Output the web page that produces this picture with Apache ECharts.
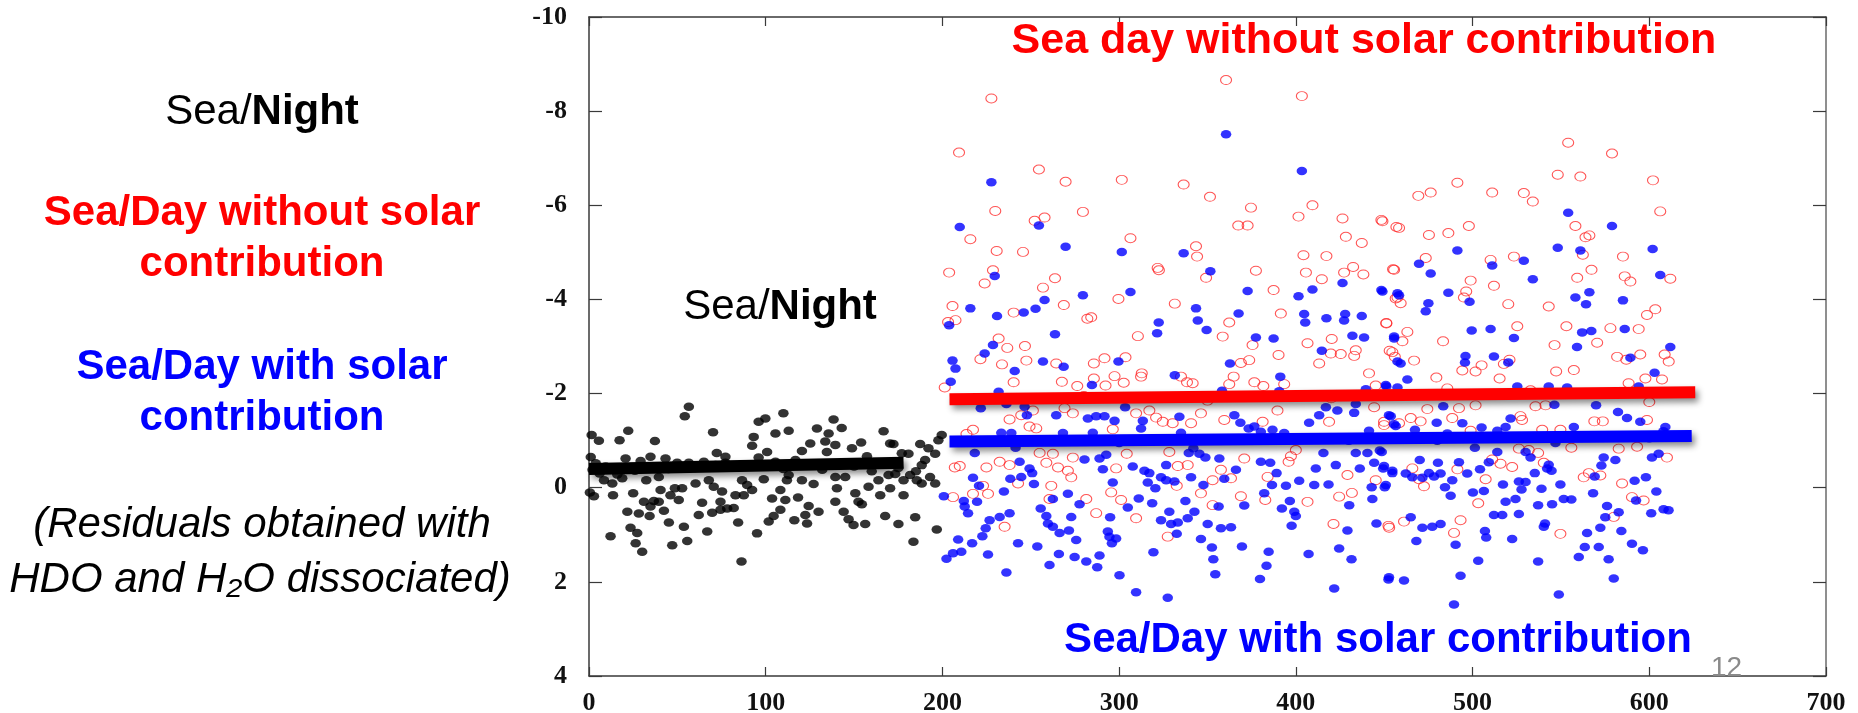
<!DOCTYPE html>
<html>
<head>
<meta charset="utf-8">
<script src="https://cdn.jsdelivr.net/npm/echarts@6/dist/echarts.min.js"></script>
<style>
  html, body { margin: 0; padding: 0; background: #ffffff; }
  #chart { width: 1858px; height: 713px; }
</style>
</head>
<body>
<div id="chart"></div>
<script>
// Axis ranges and ticks
const xTicks = [0, 100, 200, 300, 400, 500, 600, 700];
const yTicks = [-10, -8, -6, -4, -2, 0, 2, 4];

// Residuals, sea / night
const nightPoints = [
  [56.5,-1.72],[54.2,-1.52],[22.2,-1.21],[70.2,-1.18],[5.6,-1.0],[17.3,-1.01],[37.3,-0.99],[1.5,-1.12],
  [110,-1.58],[99.8,-1.47],[96,-1.4],[105.5,-1.15],[113,-1.21],[93.2,-1.08],[92.3,-0.89],[138.4,-1.45],
  [143,-1.27],[129,-1.26],[135.6,-1.15],[125.2,-0.94],[120.5,-0.78],[133.7,-0.98],[139.4,-0.91],[134.6,-0.76],
  [148.8,-0.84],[154,-0.96],[166.7,-1.2],[170.4,-0.94],[172.3,-0.93],[177,-0.73],[180.8,-0.72],[187.4,-0.93],
  [192.1,-0.84],[197.7,-1.01],[199.6,-1.12],[195.9,-0.72],[190.2,-0.59],[188.3,-0.48],[72.3,-0.74],[77.2,-0.66],
  [20.7,-0.62],[29.2,-0.57],[34.8,-0.66],[43.3,-0.62],[49.9,-0.53],[56.5,-0.53],[65,-0.55],[100.8,-0.76],
  [96,-0.64],[105.5,-0.55],[116.8,-0.59],[157.3,-0.67],[163.8,-0.52],[3.8,-0.52],[9.4,-0.45],[8.5,-0.16],
  [13.2,-0.09],[18.8,-0.2],[32.4,-0.16],[39.5,-0.23],[2.8,0.18],[13.6,0.16],[25,0.12],[40.5,0.05],
  [48.6,0.01],[52.7,0.01],[60.3,-0.09],[67.8,-0.16],[70.6,-0.02],[75.3,0.08],[86.6,-0.16],[89.5,-0.06],
  [92.3,0.05],[98.9,-0.18],[87.6,0.16],[82.9,0.16],[108.3,0.05],[112,-0.16],[120.5,-0.16],[127.1,-0.08],
  [113,-0.27],[139.4,-0.23],[145,-0.23],[140.3,0.01],[150.7,0.12],[158.2,-0.02],[163.8,-0.16],[164.8,0.16],
  [170.4,0.01],[169.5,-0.27],[173.3,-0.29],[178,-0.16],[181.7,-0.27],[185.5,-0.16],[188.3,-0.09],[193,-0.23],
  [195.9,-0.09],[178,0.16],[46.1,0.16],[31.1,0.3],[36.7,0.28],[34.8,0.4],[39.5,0.3],[42.4,0.49],
  [21.7,0.51],[28.2,0.55],[34.3,0.6],[50.8,0.26],[64,0.32],[74.4,0.3],[74.4,0.47],[78.2,0.44],
  [81.9,0.43],[69.7,0.53],[62.1,0.58],[103.6,0.23],[111.1,0.26],[118.3,0.21],[108.3,0.47],[104.5,0.6],
  [101.7,0.72],[116.2,0.69],[124.3,0.39],[129.9,0.51],[122.4,0.58],[123.4,0.76],[139.4,0.3],[144.1,0.51],
  [152.5,0.3],[154.4,0.35],[146.9,0.67],[149.7,0.79],[156.3,0.77],[167.6,0.6],[175.1,0.77],[184.6,0.63],
  [196.8,0.89],[183.6,1.15],[23.5,0.85],[27.3,0.96],[12.2,1.03],[26.4,1.18],[30.1,1.36],[45.2,0.74],
  [53.7,0.83],[47.1,1.22],[55.6,1.13],[66.9,0.93],[84.4,0.74],[95.1,0.97],[86.3,1.57],
  [77.2,-0.53],[71.6,-0.48],[2,-0.38],[12,-0.42],[26,-0.36],[45,-0.4],[60,-0.42],[84,-0.45],
  [110,-0.4],[125,-0.5],[132,-0.38],[150,-0.45],[160,-0.35],[175,-0.42],[185,-0.35],[6,-0.3],
  [16,-0.28],[1,-0.65],[0.5,0.1]
];

// Residuals, sea / day, fit without the solar term
const noSolarPoints = [
  [227.7,-8.27],[360.5,-8.66],[403.4,-8.32],[209.4,-7.12],[254.6,-6.76],[269.7,-6.5],[301.5,-6.54],[336.5,-6.44],
  [351.4,-6.18],[374.6,-5.95],[409.4,-6.0],[401.5,-5.76],[426.4,-5.72],[448.4,-5.69],[456.9,-5.54],[229.9,-5.88],
  [279.5,-5.86],[252.2,-5.67],[257.8,-5.74],[215.8,-5.28],[230.7,-5.03],[245.6,-5.01],[306.4,-5.3],[343.5,-5.13],
  [344.1,-4.91],[367.4,-5.57],[372.7,-5.57],[428.3,-5.33],[437.3,-5.2],[404.3,-4.94],[417.3,-4.92],[203.8,-4.57],
  [228.6,-4.62],[223.9,-4.34],[256.9,-4.25],[263.7,-4.45],[321.8,-4.67],[322.5,-4.62],[349.2,-4.46],[377.4,-4.61],
  [405.7,-4.57],[414.7,-4.43],[427.3,-4.57],[432.4,-4.69],[438.2,-4.53],[455,-4.64],[387.4,-4.2],[205.7,-3.86],
  [207.4,-3.56],[203.2,-3.52],[240.3,-3.72],[268.7,-3.88],[299.6,-4.01],[331.5,-3.91],[362.3,-3.51],[391.5,-3.7],
  [451.2,-3.5],[456.5,-4.02],[284.2,-3.62],[282,-3.59],[231.8,-3.17],[236.7,-2.97],[246.7,-3.01],[221.5,-2.73],
  [233.7,-2.62],[247.5,-2.7],[264.4,-2.64],[310.6,-3.22],[358.6,-3.21],[375.5,-3.03],[390.2,-2.82],[420.3,-3.16],
  [406.6,-3.07],[413.2,-2.64],[419.8,-2.85],[425.4,-2.84],[433.9,-2.92],[433,-2.8],[441.4,-2.43],[453.1,-2.91],
  [456,-2.78],[373.6,-2.71],[368.9,-2.65],[364.8,-2.36],[376.5,-2.24],[381.6,-2.16],[393.4,-2.2],[240.3,-2.24],
  [267.6,-2.25],[276.3,-2.16],[285.7,-2.64],[291.7,-2.75],[303.6,-2.77],[285.7,-2.32],[297.4,-2.37],[302.6,-2.23],
  [292.3,-2.17],[312.8,-2.43],[312.4,-2.36],[338.4,-2.24],[341.6,-2.22],[335,-2.36],[201.3,-2.13],[362.3,-2.2],
  [445.2,-2.17],
  [238,-1.45],[244.6,-1.54],[251.2,-1.64],[249.3,-1.3],[253.1,-1.26],[217.3,-1.23],[213.6,-1.14],[269.1,-1.69],
  [273.8,-1.58],[309.6,-1.58],[317.1,-1.64],[320.9,-1.49],[324.7,-1.4],[330.3,-1.37],[340.7,-1.37],[346.3,-1.58],
  [359.5,-1.44],[389.6,-1.64],[381.2,-1.4],[418.8,-1.4],[444.3,-1.71],[449.9,-1.4],[296.4,-1.24],[209.8,-0.46],
  [207,-0.43],[224.9,-0.43],[232.4,-0.55],[238,-0.48],[255,-0.74],[262.5,-0.72],[273.8,-0.64],[258.8,-0.53],
  [265.4,-0.43],[271,-0.36],[272.9,-0.22],[261.6,-0.04],[242.8,-0.09],[223,-0.04],[225.8,0.13],[206,0.2],
  [217.3,0.13],[304.3,-0.72],[298.3,-0.41],[295.5,0.1],[301.1,0.26],[281.4,0.24],[260.6,0.24],[287,0.54],
  [309.6,0.65],[235.2,0.83],[328.4,-0.76],[333.2,-0.46],[338.8,-0.48],[332.6,-0.04],[352.9,-0.16],[352.9,0.37],
  [346.3,0.12],[357.6,-0.38],[363.3,-0.2],[370.8,-0.62],[368.9,0.18],[382.7,0.26],[384,-0.23],[397.2,-0.67],
  [400,-0.8],[395.9,-0.55],[406.6,0.3],[424.5,0.19],[431.7,0.11],[429.2,-0.27],[445.2,-0.16],[421.3,0.77],
  [452.4,0.81],[327.5,1.04],[280,-1.95],[350,-1.85],[420,-1.9],
  [554.1,-7.33],[578.9,-7.1],[548.2,-6.65],[561,-6.61],[602.1,-6.53],[491.4,-6.48],[476.3,-6.27],[469.3,-6.2],
  [511.1,-6.27],[529,-6.26],[534.1,-6.08],[606.2,-5.87],[449,-5.66],[458.4,-5.52],[475.3,-5.37],[486.3,-5.41],
  [497.9,-5.56],[558.2,-5.56],[563.9,-5.32],[566.1,-5.36],[562.4,-4.95],[473.5,-4.88],[510.2,-4.84],[523.4,-4.91],
  [585.1,-4.91],[455.6,-4.63],[498.9,-4.4],[512.1,-4.29],[559.2,-4.46],[567.3,-4.63],[586.1,-4.49],[589.3,-4.38],
  [611.9,-4.44],[496.4,-4.17],[495.1,-4.04],[457.5,-4.04],[459.3,-3.92],[520.2,-3.9],[543.1,-3.85],[598.7,-3.67],
  [603.4,-3.79],[451.2,-3.49],[463.1,-3.31],[460.3,-3.11],[483.3,-3.11],[525.3,-3.43],[553.1,-3.43],[578,-3.39],
  [594,-3.37],[570.5,-3.08],[546.4,-3.03],[454.6,-2.88],[466.9,-2.7],[520.9,-2.72],[505.1,-2.6],[501.7,-2.47],
  [494.2,-2.49],[517.7,-2.63],[581.8,-2.78],[594.9,-2.83],[587,-2.72],[608.7,-2.83],[611,-2.68],[547.3,-2.47],
  [557.3,-2.5],[479.5,-2.34],[515.3,-2.32],[588.3,-2.22],[597.8,-2.32],[607.2,-2.3],[485.7,-2.11],[532.8,-2.07],
  [474.4,-1.67],[492.3,-1.69],[501.7,-1.75],[535.6,-1.73],[541.3,-1.75],[600,-1.82],[465,-1.48],[470.6,-1.41],
  [488.5,-1.48],[527.1,-1.52],[528,-1.44],[498.9,-1.21],[539.4,-1.23],[549.7,-1.23],[568.9,-1.41],[573.7,-1.41],
  [598.7,-1.44],[458.4,-1.37],[449.9,-1.33],[526.2,-0.83],[531.8,-0.8],[537.1,-0.74],[555.9,-0.85],[582.7,-0.83],
  [593.1,-0.87],[610,-0.64],[511.1,-0.6],[515.8,-0.51],[522.4,-0.44],[540.3,-0.53],[491.4,-0.39],[465.9,-0.41],
  [469.7,-0.18],[472.5,-0.03],[507.4,-0.18],[562.9,-0.22],[565.8,-0.31],[572.3,-0.26],[584.6,-0.09],[590.2,0.2],
  [596.8,0.27],[503.2,0.33],[461.2,0.72],[452.8,0.85],[493.2,0.69],[489.5,0.96],[549.7,0.98],[579.9,0.62]
];

// Residuals, sea / day, fit with the solar term
const withSolarPoints = [
  [360.5,-7.51],[403.4,-6.73],[227.7,-6.49],[209.8,-5.54],[254.6,-5.57],[269.7,-5.12],[301.5,-5.01],[336.5,-4.98],
  [351.6,-4.6],[229.6,-4.5],[279.5,-4.09],[306.4,-4.16],[426.4,-4.35],[409.4,-4.21],[401.5,-4.07],[372.7,-4.18],
  [448.4,-4.2],[457.5,-4.13],[215.8,-3.81],[230.9,-3.65],[246,-3.72],[252.7,-3.8],[257.8,-3.99],[203.8,-3.45],
  [343.5,-3.81],[344.5,-3.55],[349.5,-3.35],[322.4,-3.51],[321.5,-3.28],[367.6,-3.7],[404.7,-3.69],[405.3,-3.51],
  [417.3,-3.6],[427.9,-3.69],[427.3,-3.55],[437.3,-3.65],[263.7,-3.26],[377.4,-3.19],[387.4,-3.17],[432,-3.23],
  [438.6,-3.19],[455.6,-3.21],[414.7,-2.91],[228.6,-3.03],[223.9,-2.85],[205.7,-2.7],[207.4,-2.53],[204.7,-2.25],
  [240.9,-2.48],[256.9,-2.68],[268.6,-2.57],[299.6,-2.68],[362.7,-2.64],[331.5,-2.39],[391.2,-2.36],[457.5,-2.68],
  [450.9,-2.18],[284.6,-2.18],[231.8,-2.04],[358.2,-2.06],[390.6,-2.05],[439.6,-2.09],
  [221.7,-1.69],[236.2,-1.78],[246.5,-1.72],[247.8,-1.54],[264.4,-1.54],[282.3,-1.47],[287,-1.52],[291.7,-1.52],
  [297.4,-1.42],[303.4,-1.71],[313.4,-1.42],[312.4,-1.26],[334.1,-1.51],[365.2,-1.54],[368.6,-1.38],[373.3,-1.26],
  [376.5,-1.3],[386.8,-1.23],[407.5,-1.38],[413.2,-1.54],[417,-1.71],[423.5,-1.64],[433,-1.59],[433.9,-1.78],
  [452.7,-1.54],[455.6,-1.35],[233.3,-1.17],[239,-1.16],[268.2,-1.16],[285.1,-1.17],[335,-1.17],[380.2,-1.19],
  [393.4,-1.16],[441.4,-1.21],[218.3,-0.74],[241.4,-0.85],[280.4,-0.6],[288.9,-0.62],[292.7,-0.7],[290.8,-0.39],
  [339.4,-0.74],[342,-0.84],[345.4,-0.72],[348.8,-0.64],[356.7,-0.62],[380.2,-0.55],[385.5,-0.53],[415.6,-0.74],
  [433.9,-0.74],[440.5,-0.74],[447.5,-0.79],[444.3,-0.53],[449.9,-0.46],[454.6,-0.36],[422.6,-0.48],[436.2,-0.41],
  [411.3,-0.41],[243.7,-0.55],[249.3,-0.41],[250.8,-0.31],[244.6,-0.23],[238.4,-0.19],[217.3,-0.21],[220.7,-0.04],
  [251.8,-0.08],[234.8,0.08],[200.8,0.18],[212.1,0.28],[212.6,0.4],[214.5,0.54],[219.6,0.3],[271,0.13],
  [262.5,0.24],[277.6,0.35],[255.6,0.44],[258.8,0.6],[259.7,0.76],[262.5,0.83],[266.3,0.96],[271.6,0.91],
  [272.9,0.62],[226.7,0.69],[232.4,0.62],[238,0.54],[224.5,0.86],[222.6,1.03],[208.9,1.1],[216.8,1.18],
  [210.7,1.36],[206,1.39],[202.3,1.51],[225.8,1.42],[242.8,1.18],[253.7,1.25],[236.2,1.8],[260.6,1.64],
  [265.9,1.41],[274.8,1.47],[281.4,1.57],[287.6,1.69],[288.9,1.44],[275.7,1.11],[293.6,0.93],[294.9,0.63],
  [296.4,-0.11],[307.7,-0.45],[314.3,-0.36],[317.1,-0.31],[316.2,-0.11],[320.5,0.01],[323.7,-0.22],[326.6,-0.16],
  [331.3,-0.13],[326.6,-0.48],[311.1,0.23],[318.7,0.33],[304.9,0.42],[294.5,1.04],[298.3,1.08],[295.9,1.18],
  [319.4,1.37],[300.2,1.86],[309.6,2.22],[327.5,2.34],[323.7,0.69],[328.4,0.51],[329.4,0.77],[333.2,0.74],
  [338.8,0.65],[342.6,0.51],[332.6,0.98],[337.5,0.28],[340.7,-0.22],[347.7,-0.06],[356.3,0.4],[359.5,-0.19],
  [366.1,-0.38],[350.1,0.77],[357.6,0.86],[363.3,0.84],[346.3,1.09],[352.5,1.27],[353.3,1.52],[354.4,1.84],
  [369.5,1.25],[370.8,0.38],[379.7,1.94],[383.4,1.66],[384.6,1.36],[382.1,0.12],[386.5,-0.06],[389.1,-0.31],
  [394.4,-0.04],[401.9,-0.15],[392.1,0.44],[396.6,0.28],[399.1,0.51],[400,0.6],[397.6,0.81],[410.4,-0.06],
  [418.5,-0.07],[430.2,0.37],[429.2,0.91],[424.5,1.29],[431.5,1.52],[407.2,1.41],[421.7,2.14],[442.9,-0.01],
  [443.3,0.24],[450.9,-0.06],[445.6,0.76],[452.7,1.9],[260,-1.0],[300,-0.95],[330,-1.05],[400,-1.05],[430,-1.0],
  [554.1,-5.84],[578.9,-5.56],[548.2,-5.1],[561,-5.04],[601.9,-5.07],[491.4,-5.04],[469.7,-4.76],[476.3,-4.55],
  [511.1,-4.72],[529,-4.82],[534.1,-4.43],[606.2,-4.52],[449,-4.17],[458.4,-4.09],[486.3,-4.14],[498.3,-3.95],
  [475,-3.92],[473.5,-3.75],[558.2,-4.04],[564.2,-3.9],[566.1,-4.15],[585.1,-3.98],[499.5,-3.34],[510.2,-3.37],
  [523.4,-3.18],[562,-3.3],[567.2,-3.33],[586.1,-3.37],[559.1,-2.99],[455.6,-3.17],[459.3,-2.64],[496,-2.8],
  [495.7,-2.66],[512.1,-2.79],[520.2,-2.66],[589.3,-2.76],[611.9,-2.99],[603,-2.44],[463.1,-2.3],[451.2,-2.15],
  [457.5,-2.13],[525.3,-2.15],[543.1,-2.15],[553.5,-2.13],[594,-2.15],[483.4,-1.73],[546.3,-1.76],[569.9,-1.75],
  [453.7,-1.52],[456.5,-1.31],[467.4,-1.23],[479.7,-1.38],[494.2,-1.37],[485.7,-1.15],[505.1,-1.28],[514,-1.21],
  [518.7,-1.29],[521.5,-1.47],[557.3,-1.29],[582.3,-1.61],[587.4,-1.48],[594.9,-1.4],[609.1,-1.29],[608,-1.2],
  [448.6,-0.76],[501.3,-0.85],[514,-0.76],[530,-0.76],[532.8,-0.64],[546.9,-0.95],[601.5,-0.64],[605.3,-0.72],
  [574.2,-0.64],[580.8,-0.59],[572.9,-0.47],[470.1,-0.59],[480.4,-0.53],[492.3,-0.54],[509.2,-0.54],[504.2,-0.39],
  [497,-0.3],[449.4,-0.41],[454.6,-0.31],[462.2,-0.3],[465.9,-0.22],[471.6,-0.21],[475.3,-0.31],[478.2,-0.24],
  [481.9,-0.3],[543.1,-0.49],[535.2,-0.31],[542.2,-0.41],[544.7,-0.36],[569.1,-0.24],[488.5,-0.16],[450.3,-0.01],
  [484.4,-0.01],[500.2,0.1],[506.4,0.07],[517.2,-0.07],[526.2,-0.13],[530,-0.12],[539,0.02],[527.7,0.04],
  [549.7,-0.07],[518.7,0.3],[524.3,0.24],[487.6,0.17],[537.1,0.37],[545,0.35],[551.6,0.24],[555.9,0.25],
  [568.2,0.12],[576.1,0.39],[582.7,0.52],[575.1,0.63],[591.7,-0.15],[598.1,-0.22],[592.5,0.27],[604,0.08],
  [601.1,0.54],[608.1,0.46],[610.9,0.48],[512.1,0.58],[516.8,0.58],[526.2,0.56],[465,0.63],[471.6,0.85],
  [477.2,0.83],[481.9,0.77],[468.2,1.13],[490.4,1.21],[507,0.92],[507.7,1.06],[522.4,1.09],[540.3,0.83],
  [541,0.76],[564.8,0.96],[572.3,0.85],[584.2,0.92],[563.5,1.26],[571.4,1.26],[590.2,1.19],[596.4,1.33],
  [560.1,1.47],[577,1.52],[503.2,1.55],[537.1,1.57],[493.2,1.87],[452.4,1.95],[461.2,1.97],[579.9,1.93],
  [548.8,2.27],[489.5,2.48],[520,-1.05],[560,-1.1],[600,-1.05],[480,-1.0]
];

// Linear fits: [x, residual] end points
const nightFit = [[0, -0.40], [178, -0.53]];
const noSolarFit = [[204, -1.88], [626, -2.03]];
const withSolarFit = [[204, -0.98], [624, -1.10]];

const SANS = '"Liberation Sans", Arial, sans-serif';
const AXIS_COLOR = '#3a3a3a';

const chart = echarts.init(document.getElementById('chart'), null, { renderer: 'canvas' });

const tickFont = {
  fontFamily: '"Liberation Serif", "Times New Roman", serif',
  fontWeight: 'bold',
  fontSize: 26,
  color: '#111'
};

function fitLine(data, color) {
  return {
    type: 'line',
    data: data,
    showSymbol: false,
    symbol: 'none',
    silent: true,
    z: 10,
    lineStyle: {
      width: 12,
      color: color,
      cap: 'butt',
      shadowColor: 'rgba(0,0,0,0.45)',
      shadowBlur: 6,
      shadowOffsetX: 3,
      shadowOffsetY: 4
    }
  };
}

function label(text, x, y, opts) {
  const style = Object.assign({
    text: text,
    fill: '#000',
    font: 'bold 42px ' + SANS,
    align: 'center',
    verticalAlign: 'middle',
    textAlign: 'center',
    textVerticalAlign: 'middle'
  }, opts || {});
  return { type: 'text', x: x, y: y, z: 100, silent: true, style: style };
}

const option = {
  animation: false,
  backgroundColor: '#ffffff',
  grid: { left: 589, top: 17, right: 32, bottom: 37, show: false, containLabel: false, outerBoundsMode: 'none' },
  xAxis: [
    {
      type: 'value', position: 'bottom', min: 0, max: 700, interval: 100,
      axisLine: { show: true, onZero: false, lineStyle: { color: AXIS_COLOR, width: 1.5 } },
      axisTick: { show: true, inside: true, length: 9, lineStyle: { color: AXIS_COLOR, width: 1.2 } },
      axisLabel: Object.assign({ margin: 14, formatter: v => String(v) }, tickFont),
      splitLine: { show: false }
    },
    {
      type: 'value', position: 'top', min: 0, max: 700, interval: 100,
      axisLine: { show: true, onZero: false, lineStyle: { color: AXIS_COLOR, width: 1.5 } },
      axisTick: { show: true, inside: true, length: 9, lineStyle: { color: AXIS_COLOR, width: 1.2 } },
      axisLabel: { show: false },
      splitLine: { show: false }
    }
  ],
  yAxis: [
    {
      type: 'value', position: 'left', inverse: true, min: -10, max: 4, interval: 2,
      axisLine: { show: true, onZero: false, lineStyle: { color: AXIS_COLOR, width: 1.5 } },
      axisTick: { show: true, inside: true, length: 13, lineStyle: { color: AXIS_COLOR, width: 1.2 } },
      axisLabel: Object.assign({ margin: 22, formatter: v => String(v) }, tickFont),
      splitLine: { show: false }
    },
    {
      type: 'value', position: 'right', inverse: true, min: -10, max: 4, interval: 2,
      axisLine: { show: true, onZero: false, lineStyle: { color: '#6a6a6a', width: 1.5 } },
      axisTick: { show: true, inside: true, length: 13, lineStyle: { color: AXIS_COLOR, width: 1.2 } },
      axisLabel: { show: false },
      splitLine: { show: false }
    }
  ],
  series: [
    {
      name: 'Sea/Day without solar contribution',
      type: 'scatter',
      data: noSolarPoints,
      symbol: 'circle',
      symbolSize: [11, 9],
      z: 2,
      itemStyle: { color: 'rgba(255,255,255,0)', borderColor: '#ff2a2a', borderWidth: 1 }
    },
    {
      name: 'Sea/Day with solar contribution',
      type: 'scatter',
      data: withSolarPoints,
      symbol: 'circle',
      symbolSize: [10.5, 8.5],
      z: 3,
      itemStyle: { color: '#0000ff' }
    },
    {
      name: 'Sea/Night',
      type: 'scatter',
      data: nightPoints,
      symbol: 'circle',
      symbolSize: [10.5, 8.5],
      z: 3,
      itemStyle: { color: '#000000' }
    },
    fitLine(nightFit, '#000000'),
    fitLine(noSolarFit, '#ff0000'),
    fitLine(withSolarFit, '#0000ff')
  ],
  graphic: [
    // captions on the left
    label('{n|Sea/}{b|Night}', 262, 112, {
      font: '42px ' + SANS,
      rich: {
        n: { fontFamily: SANS, fontSize: 42, fontWeight: 'normal', fill: '#000' },
        b: { fontFamily: SANS, fontSize: 42, fontWeight: 'bold', fill: '#000' }
      }
    }),
    label('Sea/Day without solar', 262, 213, { fill: '#ff0000' }),
    label('contribution', 262, 264, { fill: '#ff0000' }),
    label('Sea/Day with solar', 262, 367, { fill: '#0000ff' }),
    label('contribution', 262, 418, { fill: '#0000ff' }),
    label('(Residuals obtained with', 262, 525, { font: 'italic 42px ' + SANS }),
    label('HDO and H\u2082O dissociated)', 260, 580, { font: 'italic 42px ' + SANS }),
    // captions inside the plot
    label('{n|Sea/}{b|Night}', 780, 307, {
      font: '42px ' + SANS,
      rich: {
        n: { fontFamily: SANS, fontSize: 42, fontWeight: 'normal', fill: '#000' },
        b: { fontFamily: SANS, fontSize: 42, fontWeight: 'bold', fill: '#000' }
      }
    }),
    label('Sea day without solar contribution', 1364, 41, { fill: '#ff0000', font: 'bold 43px ' + SANS }),
    label('Sea/Day with solar contribution', 1378, 640, { fill: '#0000ff' }),
    // slide number
    label('12', 1711, 668, { fill: '#8a8a8a', font: '28px ' + SANS, align: 'left', textAlign: 'left' })
  ]
};

chart.setOption(option);
</script>
</body>
</html>
